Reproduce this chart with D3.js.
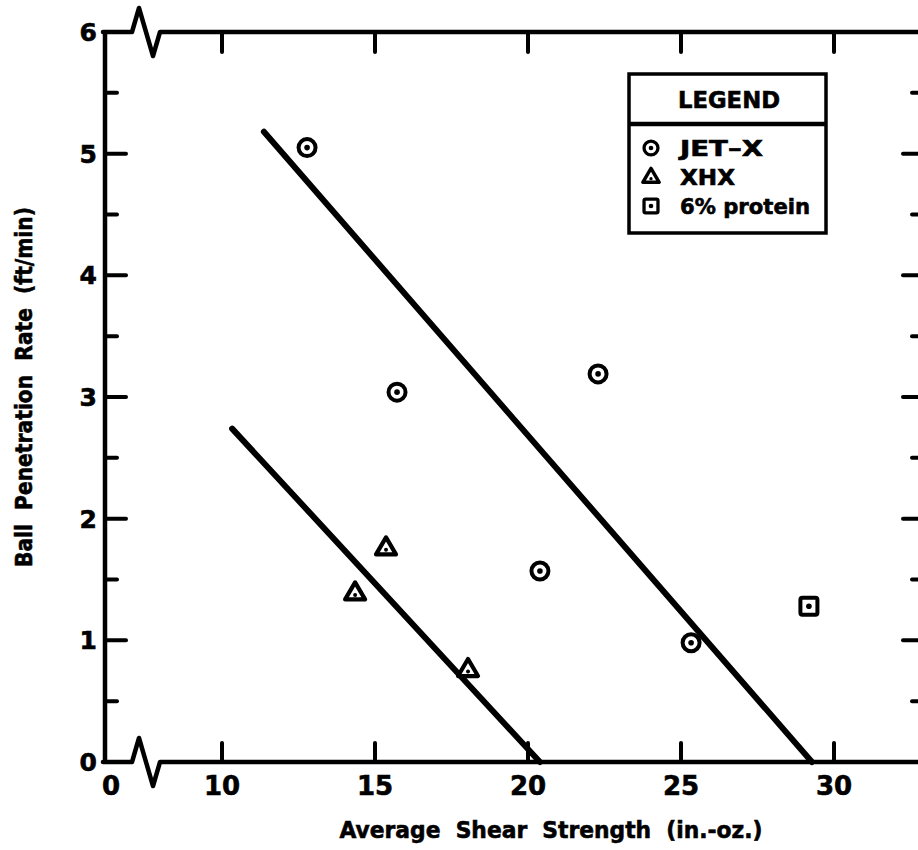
<!DOCTYPE html>
<html>
<head>
<meta charset="utf-8">
<script src="https://cdn.jsdelivr.net/npm/d3@7"></script>
<style>
  body { margin: 0; background: #fff; }
  text { font-family: "DejaVu Sans", sans-serif; font-weight: bold; fill: #000;
         stroke: #000; stroke-width: 0.6px; }
</style>
</head>
<body>
<script>
// values
var jetX    = [[12.78, 5.05], [15.72, 3.04], [22.29, 3.19], [20.39, 1.57], [25.33, 0.98]];
var xhx     = [[15.36, 1.76], [14.35, 1.39], [18.04, 0.76]];
var protein = [[29.18, 1.28]];
var jetFit  = [[11.37, 5.18], [29.28, 0]];
var xhxFit  = [[10.33, 2.74], [20.39, 0]];

var xTicks = [10, 15, 20, 25, 30];
var yTicks = [0, 1, 2, 3, 4, 5, 6];
var yMinor = [0.5, 1.5, 2.5, 3.5, 4.5, 5.5];
var legendNames = ["JET\u2013X", "XHX", "6% protein"];

(function() {
  "use strict";

  var W = 918, H = 850;
  var pLeft = 105, pRight = 925, pTop = 32, pBottom = 762;

  var svg = d3.select("body").append("svg")
      .attr("width", W).attr("height", H);

  // x axis is broken between 0 and 10, so the scale covers 10..30
  var x = d3.scaleLinear().domain([10, 30]).range([222, 834]);
  var y = d3.scaleLinear().domain([0, 6]).range([pBottom, pTop]);

  var ink = "#000";

  // frame: left and right sides
  svg.append("line").attr("x1", pLeft).attr("x2", pLeft).attr("y1", pTop).attr("y2", pBottom)
    .attr("stroke", ink).attr("stroke-width", 4.5);
  svg.append("line").attr("x1", pRight).attr("x2", pRight).attr("y1", pTop).attr("y2", pBottom)
    .attr("stroke", ink).attr("stroke-width", 4.5);

  // top and bottom lines with the break zigzag
  function breakLine(yy) {
    return [[pLeft - 2, yy], [132, yy], [139, yy - 24], [153, yy + 24], [160, yy], [pRight, yy]];
  }
  var zig = d3.line();
  [pTop, pBottom].forEach(function(yy) {
    svg.append("path").attr("d", zig(breakLine(yy)))
      .attr("fill", "none").attr("stroke", ink).attr("stroke-width", 4.5)
      .attr("stroke-linejoin", "round").attr("stroke-linecap", "round");
  });

  // x ticks, bottom up and top down
  xTicks.forEach(function(t) {
    svg.append("line").attr("x1", x(t)).attr("x2", x(t)).attr("y1", pBottom).attr("y2", pBottom - 19)
      .attr("stroke", ink).attr("stroke-width", 4).attr("stroke-linecap", "round");
    svg.append("line").attr("x1", x(t)).attr("x2", x(t)).attr("y1", pTop).attr("y2", pTop + 20)
      .attr("stroke", ink).attr("stroke-width", 4).attr("stroke-linecap", "round");
    svg.append("text").attr("x", x(t)).attr("y", 795)
      .attr("text-anchor", "middle").style("font-size", "26px").text(t);
  });
  svg.append("text").attr("x", 111).attr("y", 795)
    .attr("text-anchor", "middle").style("font-size", "26px").text("0");

  // y ticks on both sides
  yTicks.forEach(function(t) {
    if (t > 0 && t < 6) {
      svg.append("line").attr("x1", pLeft).attr("x2", pLeft + 21).attr("y1", y(t)).attr("y2", y(t))
        .attr("stroke", ink).attr("stroke-width", 4).attr("stroke-linecap", "round");
      svg.append("line").attr("x1", pRight).attr("x2", pRight - 22).attr("y1", y(t)).attr("y2", y(t))
        .attr("stroke", ink).attr("stroke-width", 4).attr("stroke-linecap", "round");
    }
    svg.append("text").attr("x", 97).attr("y", y(t) + 9)
      .attr("text-anchor", "end").style("font-size", "25px").text(t);
  });
  yMinor.forEach(function(t) {
    svg.append("line").attr("x1", pLeft).attr("x2", pLeft + 12).attr("y1", y(t)).attr("y2", y(t))
      .attr("stroke", ink).attr("stroke-width", 4).attr("stroke-linecap", "round");
    svg.append("line").attr("x1", pRight).attr("x2", pRight - 13).attr("y1", y(t)).attr("y2", y(t))
      .attr("stroke", ink).attr("stroke-width", 4).attr("stroke-linecap", "round");
  });

  // axis titles
  svg.append("text").attr("x", 551).attr("y", 838)
    .attr("text-anchor", "middle").style("font-size", "23px")
    .attr("textLength", 423).attr("lengthAdjust", "spacingAndGlyphs")
    .attr("xml:space", "preserve")
    .text("Average  Shear  Strength  (in.-oz.)");
  svg.append("text")
    .attr("transform", "translate(32,387) rotate(-90)")
    .attr("text-anchor", "middle").style("font-size", "23px")
    .attr("textLength", 360).attr("lengthAdjust", "spacingAndGlyphs")
    .attr("xml:space", "preserve")
    .text("Ball  Penetration  Rate  (ft/min)");

  // fitted lines
  var line = d3.line().x(function(d) { return x(d[0]); }).y(function(d) { return y(d[1]); });
  [jetFit, xhxFit].forEach(function(f) {
    svg.append("path").attr("d", line(f))
      .attr("fill", "none").attr("stroke", ink).attr("stroke-width", 6)
      .attr("stroke-linecap", "round");
  });

  // marker drawers
  function circleMark(g, cx, cy, s) {
    g.append("circle").attr("cx", cx).attr("cy", cy).attr("r", 8.5 * s)
      .attr("fill", "#fff").attr("stroke", ink).attr("stroke-width", 4 * s);
    g.append("circle").attr("cx", cx).attr("cy", cy).attr("r", 2.8 * s).attr("fill", ink);
  }
  function triMark(g, cx, cy, s) {
    var r = 10.5 * s;
    var p = [[cx, cy - r], [cx + r * 0.95, cy + r * 0.62], [cx - r * 0.95, cy + r * 0.62]];
    g.append("path").attr("d", d3.line()(p) + "Z")
      .attr("fill", "#fff").attr("stroke", ink).attr("stroke-width", 4.2 * s)
      .attr("stroke-linejoin", "round");
    g.append("circle").attr("cx", cx).attr("cy", cy + 2 * s).attr("r", 2 * s).attr("fill", ink);
  }
  function sqMark(g, cx, cy, s) {
    var h = 8.5 * s;
    g.append("rect").attr("x", cx - h).attr("y", cy - h).attr("width", 2 * h).attr("height", 2 * h)
      .attr("rx", 2 * s)
      .attr("fill", "#fff").attr("stroke", ink).attr("stroke-width", 4 * s);
    g.append("circle").attr("cx", cx).attr("cy", cy).attr("r", 2.8 * s).attr("fill", ink);
  }

  var pts = svg.append("g");
  jetX.forEach(function(d) { circleMark(pts, x(d[0]), y(d[1]), 1); });
  xhx.forEach(function(d) { triMark(pts, x(d[0]), y(d[1]), 1); });
  protein.forEach(function(d) { sqMark(pts, x(d[0]), y(d[1]), 1); });

  // legend box
  var lg = svg.append("g");
  lg.append("rect").attr("x", 629).attr("y", 74).attr("width", 197).attr("height", 159)
    .attr("fill", "#fff").attr("stroke", ink).attr("stroke-width", 3.5);
  lg.append("line").attr("x1", 629).attr("x2", 826).attr("y1", 124).attr("y2", 124)
    .attr("stroke", ink).attr("stroke-width", 4.5);
  lg.append("text").attr("x", 678).attr("y", 108)
    .style("font-size", "23px")
    .attr("textLength", 102).attr("lengthAdjust", "spacingAndGlyphs")
    .text("LEGEND");
  var drawers = [circleMark, triMark, sqMark];
  var entryWidths = [83, 55, 130];
  legendNames.forEach(function(n, i) {
    var cy = 148 + i * 29;
    drawers[i](lg, 651, cy, 0.82);
    lg.append("text").attr("x", 680).attr("y", cy + 8)
      .style("font-size", "21px")
      .attr("textLength", entryWidths[i]).attr("lengthAdjust", "spacingAndGlyphs")
      .text(n);
  });
})();
</script>
</body>
</html>
